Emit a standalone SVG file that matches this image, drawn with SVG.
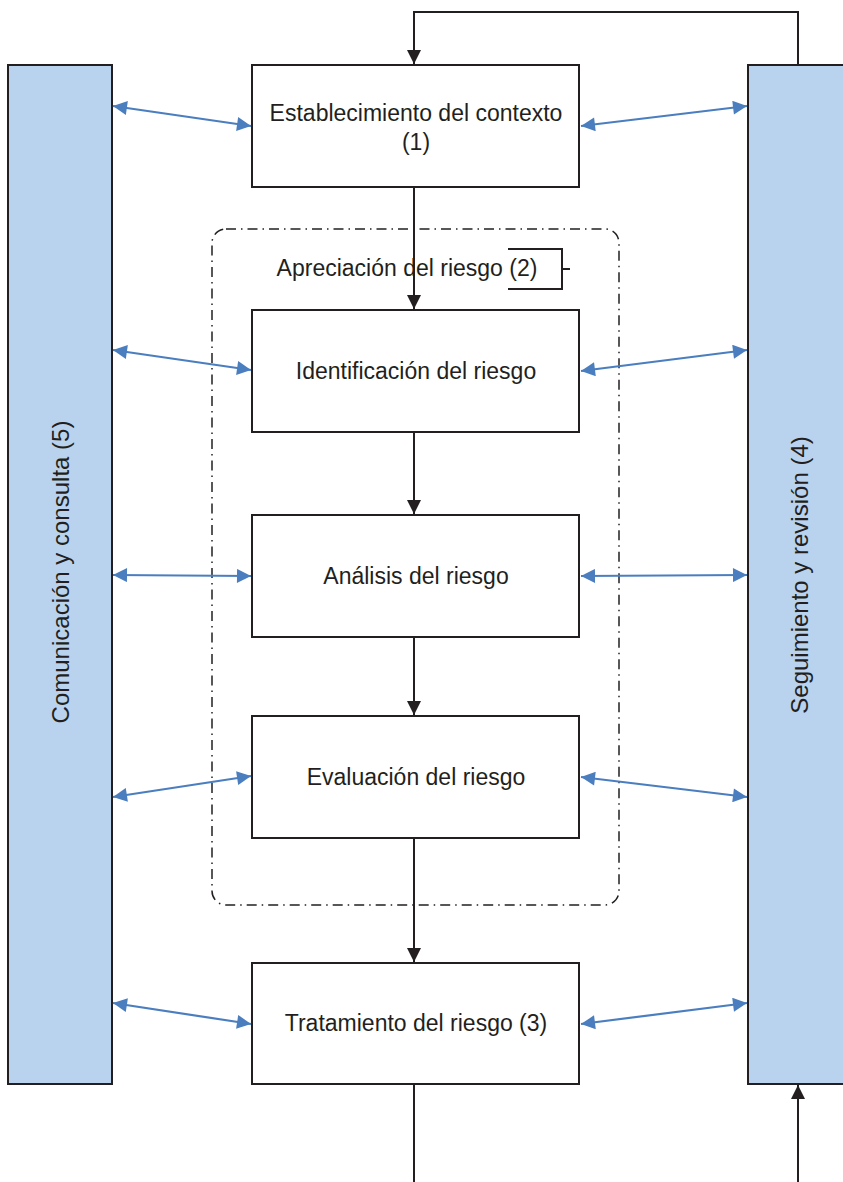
<svg xmlns="http://www.w3.org/2000/svg" width="843" height="1182" viewBox="0 0 843 1182">
<style>
.box{fill:#fff;stroke:#231f20;stroke-width:2}
.bar{fill:#b9d3ee;stroke:#231f20;stroke-width:2}
.t{font-family:"Liberation Sans",Arial,sans-serif;font-size:23px;fill:#231f20;text-anchor:middle}
.v{font-size:24px}
.k{stroke:#231f20;stroke-width:2;fill:none}
.b{stroke:#4a7ebf;stroke-width:2.2;fill:none;marker-start:url(#ba);marker-end:url(#ba)}
</style>
<defs>
<marker id="ka2" viewBox="0 0 10 10" refX="10" refY="5" markerWidth="18" markerHeight="14" orient="auto" markerUnits="userSpaceOnUse"><path d="M0,0L10,5L0,10z" fill="#231f20"/></marker>
<marker id="ba" viewBox="0 0 10 10" refX="10" refY="5" markerWidth="18" markerHeight="14" orient="auto-start-reverse" markerUnits="userSpaceOnUse"><path d="M0,0L10,5L0,10z" fill="#4a7ebf"/></marker>
</defs>
<g id="bar-left"><rect class="bar" x="8" y="65" width="104" height="1019"/><text class="t v" transform="translate(69,572) rotate(-90)">Comunicación y consulta (5)</text></g>
<g id="bar-right"><rect class="bar" x="748" y="65" width="100" height="1019"/><text class="t v" transform="translate(808,575) rotate(-90)">Seguimiento y revisión (4)</text></g>
<g id="group-apreciacion">
<rect x="212" y="229" width="407" height="676" rx="14" fill="none" stroke="#231f20" stroke-width="1.5" stroke-dasharray="10,5,1.5,5"/>
<text class="t" x="407" y="276">Apreciación del riesgo (2)</text>
<path class="k" stroke-width="1.5" d="M508,249H562V289H508M562,269H570"/>
</g>
<g id="box-contexto"><rect class="box" x="252" y="65" width="327" height="122"/><text class="t" x="416" y="121">Establecimiento del contexto</text><text class="t" x="416" y="150">(1)</text></g>
<g id="box-identificacion"><rect class="box" x="252" y="310" width="327" height="122"/><text class="t" x="416" y="379">Identificación del riesgo</text></g>
<g id="box-analisis"><rect class="box" x="252" y="515" width="327" height="122"/><text class="t" x="416" y="584">Análisis del riesgo</text></g>
<g id="box-evaluacion"><rect class="box" x="252" y="716" width="327" height="122"/><text class="t" x="416" y="785">Evaluación del riesgo</text></g>
<g id="box-tratamiento"><rect class="box" x="252" y="963" width="327" height="121"/><text class="t" x="416" y="1031">Tratamiento del riesgo (3)</text></g>
<g id="connectors">
<path class="k" d="M798,65V12H414V64" marker-end="url(#ka2)"/>
<path class="k" d="M414,187V309" marker-end="url(#ka2)"/>
<path class="k" d="M414,432V514" marker-end="url(#ka2)"/>
<path class="k" d="M414,637V715" marker-end="url(#ka2)"/>
<path class="k" d="M414,838V962" marker-end="url(#ka2)"/>
<path class="k" d="M414,1084V1182"/>
<path class="k" d="M798,1182V1085" marker-end="url(#ka2)"/>
<path class="b" d="M113,106L251,126"/>
<path class="b" d="M581,126L747,106"/>
<path class="b" d="M113,350L251,370"/>
<path class="b" d="M581,371L747,350"/>
<path class="b" d="M113,575L251,576"/>
<path class="b" d="M581,576L747,575"/>
<path class="b" d="M113,797L251,776"/>
<path class="b" d="M581,777L747,797"/>
<path class="b" d="M113,1003L251,1024"/>
<path class="b" d="M581,1024L747,1003"/>
</g>
</svg>
